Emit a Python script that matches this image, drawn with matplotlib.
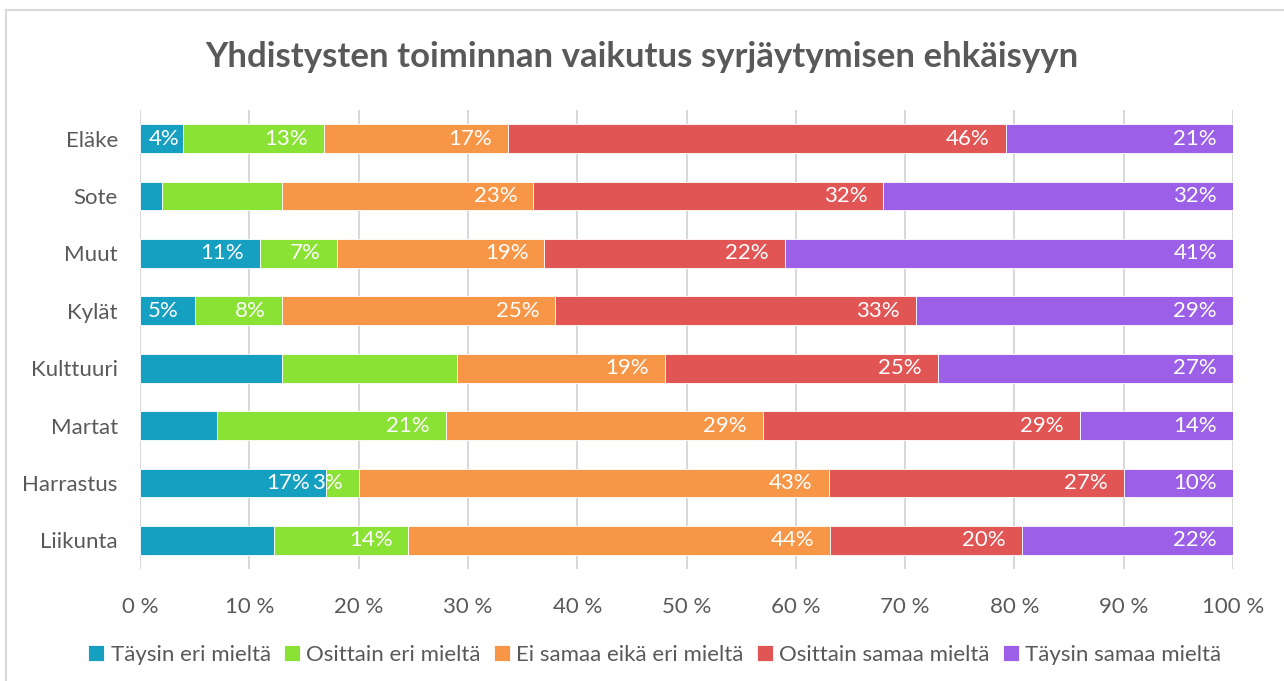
#!/usr/bin/env python3

import numpy as np
import matplotlib
matplotlib.use('Agg')
import matplotlib.pyplot as plt
from matplotlib.patches import Rectangle

categories = ['Eläke', 'Sote', 'Muut', 'Kylät', 'Kulttuuri', 'Martat', 'Harrastus', 'Liikunta']
series = ['Täysin eri mieltä', 'Osittain eri mieltä', 'Ei samaa eikä eri mieltä',
          'Osittain samaa mieltä', 'Täysin samaa mieltä']
# raw percentages per category (top to bottom), one list per answer
taysin_eri = [4, 2, 11, 5, 13, 7, 17, 14]
osittain_eri = [13, 11, 7, 8, 16, 21, 3, 14]
ei_samaa = [17, 23, 19, 25, 19, 29, 43, 44]
osittain_samaa = [46, 32, 22, 33, 25, 29, 27, 20]
taysin_samaa = [21, 32, 41, 29, 27, 14, 10, 22]
# labels that were left out of the original chart: (category, series index)
hidden_labels = [('Sote', 0), ('Sote', 1), ('Kulttuuri', 0), ('Kulttuuri', 1),
                 ('Martat', 0), ('Liikunta', 0)]
x_ticks = [0, 10, 20, 30, 40, 50, 60, 70, 80, 90, 100]

colors = ['#159FC1', '#8AE234', '#F79646', '#E15554', '#9B5FE8']
text_col = '#595959'
grid_col = '#D9D9D9'

plt.rcParams['font.family'] = ['Lato', 'DejaVu Sans']

raw = np.array([taysin_eri, osittain_eri, ei_samaa, osittain_samaa, taysin_samaa], dtype=float)
pct = raw / raw.sum(axis=0) * 100

fig = plt.figure(figsize=(12.84, 6.81), dpi=100)
ax = fig.add_axes([140 / 1284, 1 - 569 / 681, 1093 / 1284, 459 / 681])

y = np.arange(len(categories))
left = np.zeros(len(categories))
for i, name in enumerate(series):
    ax.barh(y, pct[i], left=left, height=0.5, color=colors[i], label=name,
            edgecolor='white', linewidth=0.6, zorder=3)
    for j, cat in enumerate(categories):
        if (cat, i) in hidden_labels:
            continue
        # very narrow first segment: label pushed to the bar end
        pad = -4 if pct[i, j] < 4.5 and i == 0 else -16
        ax.annotate('%d%%' % raw[i, j], xy=(left[j] + pct[i, j], y[j]),
                    xytext=(pad, 0), textcoords='offset pixels',
                    ha='right', va='center', color='white', fontsize=16, zorder=4)
    left += pct[i]

ax.set_xlim(0, 100)
ax.set_ylim(len(categories) - 0.5, -0.5)
ax.set_yticks(y)
ax.set_yticklabels(categories)
ax.set_xticks(x_ticks)
ax.set_xticklabels(['%d %%' % t for t in x_ticks])
ax.tick_params(axis='both', length=0, colors=text_col, labelsize=16)
ax.tick_params(axis='y', pad=16)
ax.tick_params(axis='x', pad=20)
for s in ax.spines.values():
    s.set_visible(False)
ax.xaxis.grid(True, color=grid_col, linewidth=1.5, zorder=0)
ax.set_axisbelow(True)

fig.text(0.5, 1 - 57 / 681, 'Yhdistysten toiminnan vaikutus syrjäytymisen ehkäisyyn',
         ha='center', va='center', fontsize=25, fontweight='bold', color=text_col)

fig.legend(loc='center', bbox_to_anchor=(0.51, 1 - 655 / 681), ncol=5, frameon=False,
           fontsize=16, labelcolor=text_col, handlelength=0.7, handleheight=0.7,
           handletextpad=0.3, columnspacing=0.6)

fig.patches.append(Rectangle((6 / 1284, -0.1), 1.2, 1.1 - 10 / 681,
                             transform=fig.transFigure, fill=False,
                             edgecolor=grid_col, linewidth=1.5))

fig.savefig('out.png', dpi=100)
